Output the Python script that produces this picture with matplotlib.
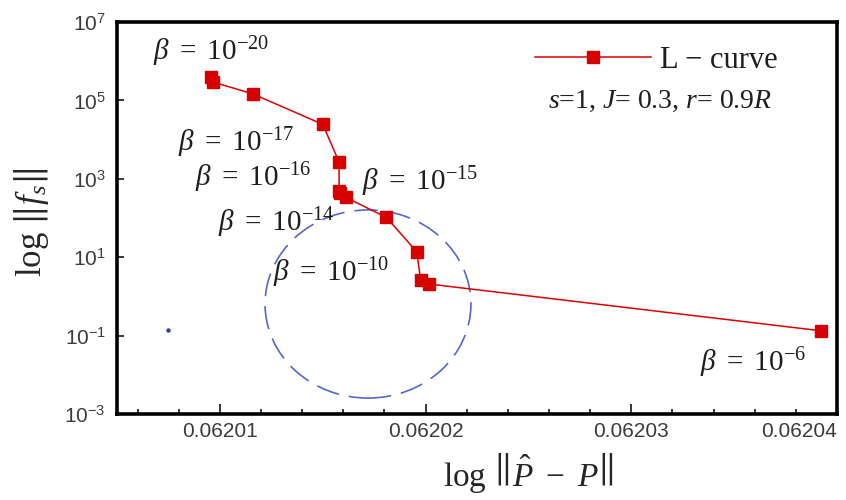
import math
import matplotlib
matplotlib.use("Agg")
import matplotlib.pyplot as plt
from matplotlib.patches import Ellipse
from matplotlib.ticker import FixedLocator, FuncFormatter, MultipleLocator, NullLocator

plt.rcParams.update({
    "font.family": ["Liberation Serif", "DejaVu Serif"],
    "mathtext.fontset": "custom",
    "mathtext.rm": "Liberation Serif",
    "mathtext.it": "Liberation Serif:italic",
    "mathtext.bf": "Liberation Serif:bold",
    "mathtext.sf": "Liberation Sans",
    "mathtext.fallback": "stix",
})

# L-curve samples: residual norm vs. solution norm
residual_norm = [0.06200959, 0.06200967, 0.06201161, 0.06201500, 0.06201579,
                 0.06201580, 0.06201585, 0.06201612, 0.06201810, 0.06201957,
                 0.06201976, 0.06202017, 0.06203921]
solution_norm = [3.84e5, 2.94e5, 1.46e5, 2.45e4, 2.73e3,
                 497, 427, 337, 103, 13.8,
                 2.62, 2.07, 0.133]

x_ticks = [0.06201, 0.06202, 0.06203, 0.06204]
x_tick_labels = ["0.06201", "0.06202", "0.06203", "0.06204"]
y_ticks = [1e-3, 1e-1, 1e1, 1e3, 1e5, 1e7]

# regularisation parameter labels: exponent, (x, baseline y) in axes fraction
beta_exponents = ["-20", "-17", "-16", "-15", "-14", "-10", "-6"]
beta_positions = [(0.050, 0.903), (0.085, 0.671), (0.108, 0.582), (0.340, 0.571),
                  (0.140, 0.467), (0.217, 0.339), (0.810, 0.110)]

fig = plt.figure(figsize=(8.46, 5.0), dpi=100)
ax = fig.add_axes([117 / 846, 86 / 500, 720 / 846, 392 / 500])

red = "#e00000"
ax.plot(residual_norm, solution_norm, color=red, lw=1.1, marker="s", ms=8.5,
        mfc="#d60000", mec="#d60000", label="L \u2212 curve", zorder=3)

ax.set_yscale("log")
ax.set_xlim(0.062005, 0.06204)
ax.set_ylim(1e-3, 1e7)

tick_color = "#3c3c3c"
ax.xaxis.set_major_locator(FixedLocator(x_ticks))
ax.set_xticklabels(x_tick_labels)
ax.xaxis.set_minor_locator(MultipleLocator(2e-6))
ax.yaxis.set_major_locator(FixedLocator(y_ticks))
ax.yaxis.set_minor_locator(NullLocator())
ax.yaxis.set_major_formatter(FuncFormatter(
    lambda v, p: r"$\mathsf{10^{%d}}$" % round(math.log10(v))))

ax.tick_params(axis="both", which="both", direction="in", top=False, right=False,
               colors="black", labelcolor=tick_color)
ax.tick_params(axis="x", which="major", length=7, width=1.1, pad=6, labelsize=15)
ax.tick_params(axis="x", which="minor", length=3.5, width=1.1)
ax.tick_params(axis="y", which="major", length=5, width=1.1, pad=8, labelsize=15)
for lab in ax.get_xticklabels() + ax.get_yticklabels():
    lab.set_family("Liberation Sans")
# keep the last x tick label inside the figure
ax.get_xticklabels()[-1].set_horizontalalignment("right")

for sp in ax.spines.values():
    sp.set_linewidth(2.6)
    sp.set_color("black")

label_color = "#262626"
ax.set_xlabel(r"$\log\,\left\|\hat{P}\ -\ P\right\|$", fontsize=24, color=label_color)
ax.set_ylabel(r"$\log\,\left\|f_s\right\|$", fontsize=25, color=label_color)
ax.xaxis.set_label_coords(0.571, -0.094)
ax.yaxis.set_label_coords(-0.091, 0.49)

# dashed highlight around the corner of the curve
ax.add_patch(Ellipse((0.3486, 0.2806), 0.286, 0.480, transform=ax.transAxes,
                     fill=False, ec="#5566d0", lw=1.2, ls=(0, (14, 6)), zorder=2))
ax.plot([0.0708], [0.214], transform=ax.transAxes, marker="o", ms=2.2,
        color="#3a3aa8", zorder=2)

text_color = "#1e1e1e"
for e, (tx, ty) in zip(beta_exponents, beta_positions):
    ax.text(tx, ty, r"$\beta\ =\ 10^{%s}$" % e, transform=ax.transAxes,
            ha="left", va="baseline", fontsize=21, color=text_color)

leg = ax.legend(loc="center left", bbox_to_anchor=(0.5806, 0.903), frameon=False,
                borderpad=0, borderaxespad=0, handlelength=3.8, handletextpad=0.3,
                numpoints=1, prop={"family": "Liberation Serif", "size": 22})
for t in leg.get_texts():
    t.set_color(text_color)

ax.text(0.754, 0.781, r"$s$=1, $J$= 0.3, $r$= 0.9$R$", transform=ax.transAxes,
        ha="center", va="baseline", fontsize=20, color=text_color)

fig.savefig("out.png", dpi=100)
